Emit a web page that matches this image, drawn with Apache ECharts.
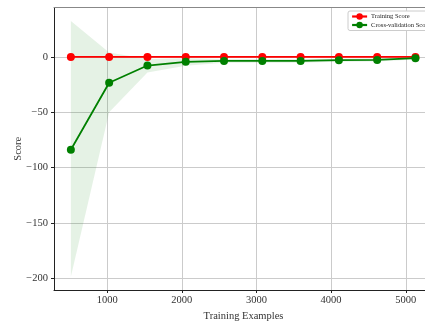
<!DOCTYPE html>
<html><head><meta charset="utf-8">
<script src="https://cdn.jsdelivr.net/npm/echarts@6/dist/echarts.min.js"></script>
<style>html,body{margin:0;padding:0;background:#fff}#c{width:425px;height:323px}</style>
</head><body><div id="c"></div>
<script>
const trainSizes = [513, 1026, 1539, 2052, 2565, 3078, 3591, 4104, 4617, 5130];
const trainScore = [0, 0, 0, 0, 0, 0, 0, 0, 0, 0];
const cvScore = [-83.9, -23.4, -7.8, -4.5, -3.6, -3.6, -3.6, -3.0, -2.7, -1.2];
const cvUpper = [32.4, 3.9, -1.8, -1.2, -2.0, -2.0, -2.0, -1.6, -1.3, 0.0];
const cvLower = [-198.5, -50.0, -14.0, -8.0, -5.2, -5.2, -5.2, -4.4, -4.1, -2.4];
const xTicks = [1000, 2000, 3000, 4000, 5000];
const yTicks = [-200, -150, -100, -50, 0];

const FONT = 'Liberation Serif';
const chart = echarts.init(document.getElementById('c'), null, {renderer: 'canvas'});

const bandData = trainSizes.map((x, i) => [x, cvLower[i], cvUpper[i]]);

chart.setOption({
  animation: false,
  backgroundColor: '#fff',
  grid: {left: 54, top: 7.5, right: -8, bottom: 33, containLabel: false, outerBoundsMode: 'none'},
  legend: {
    data: ['Training Score', 'Cross-validation Score'],
    orient: 'vertical', left: 348, top: 11,
    padding: [2, 3, 2, 3], itemGap: 1.5, itemWidth: 15, itemHeight: 8,
    backgroundColor: '#fff', borderColor: '#ccc', borderWidth: 1, borderRadius: 2,
    lineStyle: {width: 2.2},
    textStyle: {fontFamily: FONT, fontSize: 6.5, color: '#222', padding: [0, 0, 0, -1]}
  },
  xAxis: [{
    type: 'value', min: 287, max: 5365,
    name: 'Training Examples', nameLocation: 'middle', nameGap: 21, nameMoveOverlap: false,
    nameTextStyle: {fontFamily: FONT, fontSize: 10.5, color: '#333'},
    axisLine: {show: true, onZero: false, lineStyle: {color: '#222', width: 1}},
    axisTick: {show: true, length: 3, lineStyle: {color: '#222'}, customValues: xTicks},
    axisLabel: {fontFamily: FONT, fontSize: 10.5, color: '#333', margin: 5, customValues: xTicks,
      formatter: v => String(v)},
    splitLine: {show: true, lineStyle: {color: '#cbcbcb', width: 1}}
  }, {
    type: 'value', position: 'top', min: 287, max: 5365,
    axisLine: {show: true, onZero: false, lineStyle: {color: '#888', width: 1}},
    axisTick: {show: false}, axisLabel: {show: false}, splitLine: {show: false}
  }],
  yAxis: {
    type: 'value', min: -210.5, max: 44.6,
    name: 'Score', nameLocation: 'middle', nameGap: 30, nameMoveOverlap: false,
    nameTextStyle: {fontFamily: FONT, fontSize: 10.5, color: '#333'},
    axisLine: {show: true, onZero: false, lineStyle: {color: '#222', width: 1}},
    axisTick: {show: true, length: 3, lineStyle: {color: '#222'}, customValues: yTicks},
    axisLabel: {fontFamily: FONT, fontSize: 10.5, color: '#333', margin: 6, customValues: yTicks,
      formatter: v => String(v).replace('-', '\u2212')},
    splitLine: {show: true, lineStyle: {color: '#cbcbcb', width: 1}}
  },
  series: [{
    type: 'custom', name: 'band', silent: true, z: 1,
    data: bandData,
    encode: {x: 0, y: [1, 2]},
    renderItem: function (params, api) {
      if (params.dataIndex !== 0) return null;
      const up = [], lo = [];
      for (let i = 0; i < bandData.length; i++) {
        up.push(api.coord([bandData[i][0], bandData[i][2]]));
        lo.push(api.coord([bandData[i][0], bandData[i][1]]));
      }
      const pts = up.concat(lo.reverse());
      return {type: 'polygon', shape: {points: pts}, style: {fill: 'rgba(0,128,0,0.1)'}};
    }
  }, {
    type: 'line', name: 'Training Score', z: 3,
    data: trainSizes.map((x, i) => [x, trainScore[i]]),
    symbol: 'circle', symbolSize: 8,
    lineStyle: {color: '#ff0000', width: 1.8}, itemStyle: {color: '#ff0000'}
  }, {
    type: 'line', name: 'Cross-validation Score', z: 4,
    data: trainSizes.map((x, i) => [x, cvScore[i]]),
    symbol: 'circle', symbolSize: 8,
    lineStyle: {color: '#008000', width: 1.8}, itemStyle: {color: '#008000'}
  }]
});
</script></body></html>
